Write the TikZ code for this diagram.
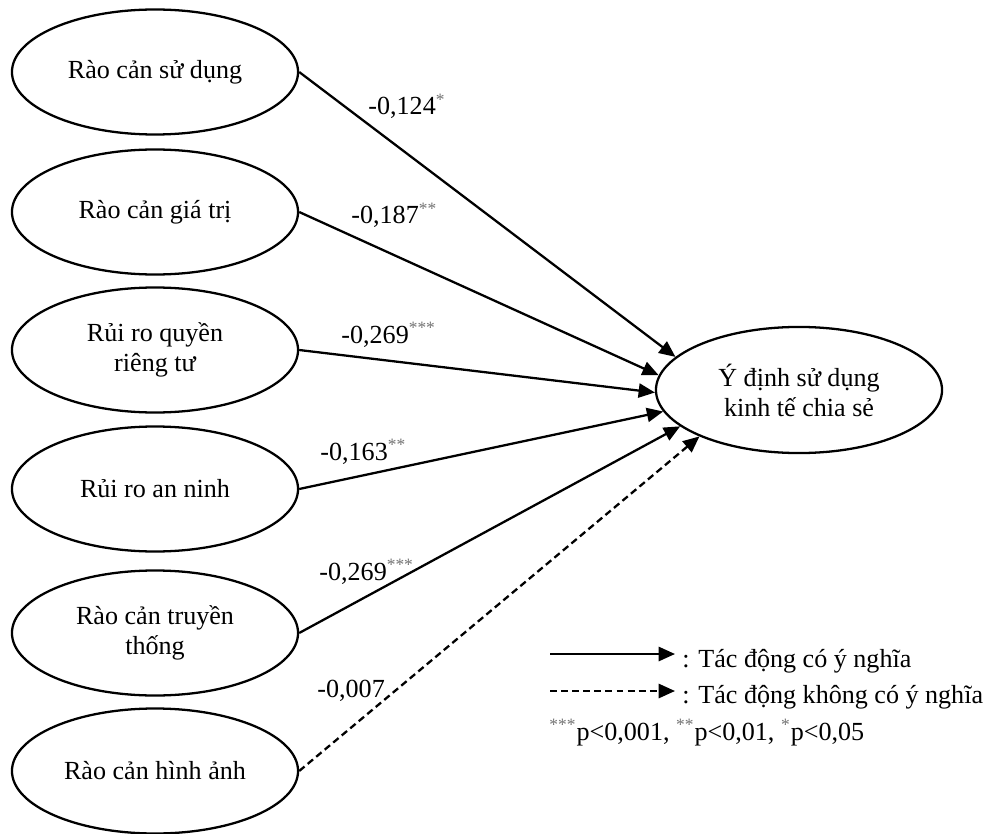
\documentclass[tikz,border=0pt]{standalone}
\usepackage{fontspec}
\setmainfont{Liberation Serif}
\usetikzlibrary{shapes.geometric,arrows.meta}
\newcommand\sigmark[1]{\textcolor{black!55}{\textsuperscript{#1}}}
\begin{document}
\begin{tikzpicture}[x=0.46pt,y=-0.46pt,
  txt/.style={font=\fontsize{12}{13.8}\selectfont},
  factor/.style={ellipse,draw,line width=1.05pt,minimum width=131.6pt,
    minimum height=57.5pt,inner sep=0pt,align=center,txt},
  outcome/.style={factor,minimum height=58pt},
  conn/.style={line width=1.05pt,-{Triangle[length=7.5pt,width=6.5pt]}},
  nsconn/.style={conn,dash pattern=on 3.2pt off 1.9pt},
  coef/.style={inner sep=0pt,anchor=base west,txt},
  legend/.style={inner sep=0pt,anchor=base west,txt}]
  \useasboundingbox (0,0) rectangle (992,834);

  % explanatory constructs
  \node[factor] (f1) at (155,72)  {Rào cản sử dụng};
  \node[factor] (f2) at (155,212) {Rào cản giá trị};
  \node[factor] (f3) at (155,350) {Rủi ro quyền\\riêng tư};
  \node[factor] (f4) at (155,489) {Rủi ro an ninh};
  \node[factor] (f5) at (155,633) {Rào cản truyền\\thống};
  \node[factor] (f6) at (155,771) {Rào cản hình ảnh};

  % dependent construct
  \node[outcome] (y) at (799,390) {Ý định sử dụng\\kinh tế chia sẻ};

  % paths
  \draw[conn]   (f1.east) -- (y.165.3);
  \draw[conn]   (f2.east) -- (y.174.7);
  \draw[conn]   (f3.east) -- (y.181.2);
  \draw[conn]   (f4.east) -- (y.189.5);
  \draw[conn]   (f5.east) -- (y.197.7);
  \draw[nsconn] (f6.east) -- (y.205.4);

  % path coefficients
  \node[coef] (c1) at (368,115) {-0,124\sigmark{*}};
  \node[coef] (c2) at (351,224) {-0,187\sigmark{**}};
  \node[coef] (c3) at (341,343) {-0,269\sigmark{***}};
  \node[coef] (c4) at (320,460) {-0,163\sigmark{**}};
  \node[coef] (c5) at (319,580) {-0,269\sigmark{***}};
  \node[coef] (c6) at (317,697) {-0,007};

  % legend
  \coordinate (s1) at (550,654);
  \coordinate (e1) at (675,654);
  \coordinate (s2) at (550,691);
  \coordinate (e2) at (675,691);
  \draw[conn]   (s1) -- (e1);
  \draw[nsconn] (s2) -- (e2);
  \node[legend] (t1) at (682,667) {: Tác động có ý nghĩa};
  \node[legend] (t2) at (682,703) {: Tác động không có ý nghĩa};
  \node[legend] (t3) at (549,740) {\sigmark{***}p<0,001, \sigmark{**}p<0,01, \sigmark{*}p<0,05};
\end{tikzpicture}
\end{document}
